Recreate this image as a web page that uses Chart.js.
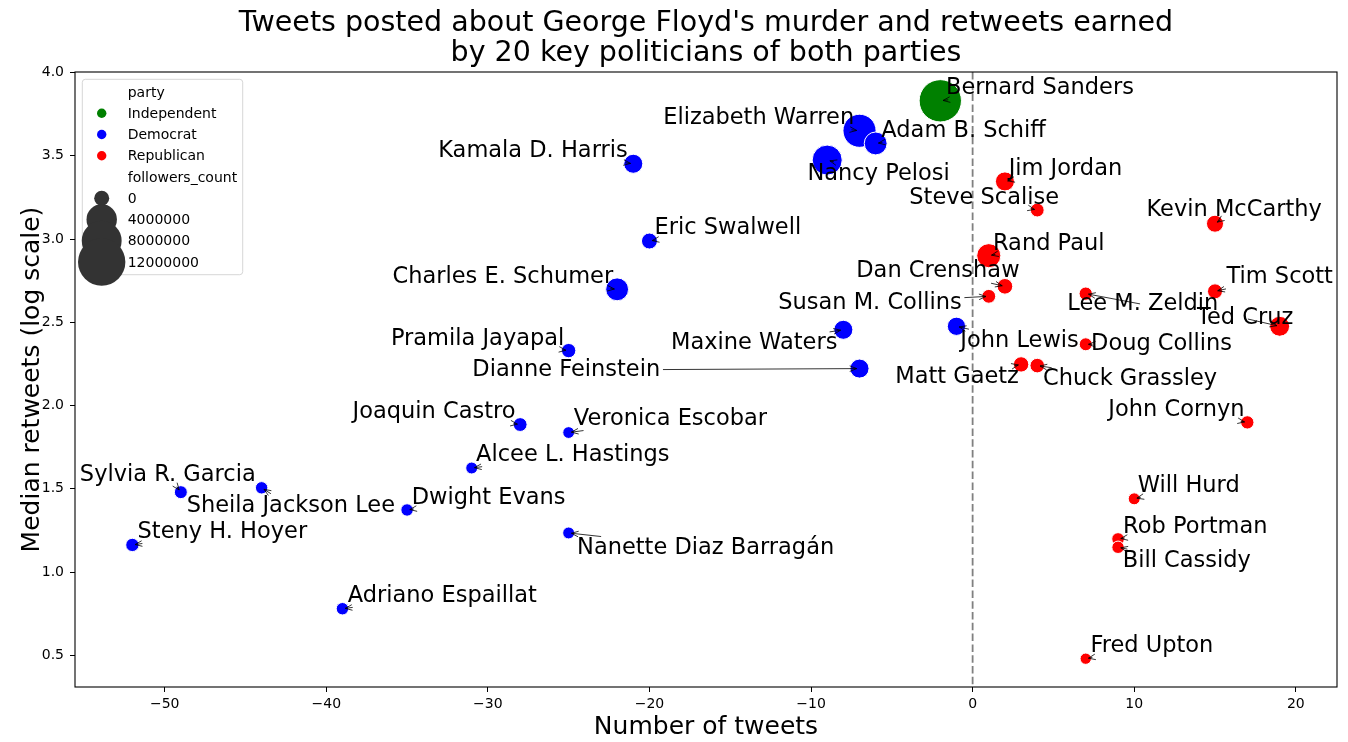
<!DOCTYPE html>
<html>
<head>
<meta charset="utf-8">
<title>Tweets about George Floyd's murder</title>
<script src="https://cdn.jsdelivr.net/npm/chart.js@4.4.0/dist/chart.umd.min.js"></script>
<style>
    html, body { margin: 0; padding: 0; background: #fff; }
    #wrap { width: 1348px; height: 742px; }
</style>
</head>
<body>
<div id="wrap"><canvas id="tweetsChart" width="1348" height="742"></canvas></div>
<script>
const names = [
    'Bernard Sanders',
    'Elizabeth Warren', 'Adam B. Schiff', 'Nancy Pelosi', 'Kamala D. Harris', 'Eric Swalwell',
    'Charles E. Schumer', 'Pramila Jayapal', 'Maxine Waters', 'Dianne Feinstein', 'John Lewis',
    'Joaquin Castro', 'Veronica Escobar', 'Alcee L. Hastings', 'Sylvia R. Garcia', 'Sheila Jackson Lee',
    'Dwight Evans', 'Steny H. Hoyer', 'Nanette Diaz Barragán', 'Adriano Espaillat',
    'Jim Jordan', 'Steve Scalise', 'Kevin McCarthy', 'Rand Paul', 'Dan Crenshaw', 'Susan M. Collins',
    'Lee M. Zeldin', 'Tim Scott', 'Ted Cruz', 'Doug Collins', 'Matt Gaetz', 'Chuck Grassley',
    'John Cornyn', 'Will Hurd', 'Rob Portman', 'Bill Cassidy', 'Fred Upton'
];
const parties = [
    'Independent',
    'Democrat', 'Democrat', 'Democrat', 'Democrat', 'Democrat', 'Democrat', 'Democrat', 'Democrat',
    'Democrat', 'Democrat', 'Democrat', 'Democrat', 'Democrat', 'Democrat', 'Democrat', 'Democrat',
    'Democrat', 'Democrat', 'Democrat',
    'Republican', 'Republican', 'Republican', 'Republican', 'Republican', 'Republican', 'Republican',
    'Republican', 'Republican', 'Republican', 'Republican', 'Republican', 'Republican', 'Republican',
    'Republican', 'Republican', 'Republican'
];
const tweets = [
    -2,
    -7, -6, -9, -21, -20, -22, -25, -8, -7, -1, -28, -25, -31, -49, -44, -35, -52, -25, -39,
    2, 4, 15, 1, 2, 1, 7, 15, 19, 7, 3, 4, 17, 10, 9, 9, 7
];
const retweets = [
    3.83,
    3.65, 3.574, 3.474, 3.452, 2.988, 2.698, 2.33, 2.455, 2.222, 2.476, 1.886, 1.838, 1.625, 1.48,
    1.506, 1.373, 1.163, 1.235, 0.78,
    3.346, 3.174, 3.092, 2.9, 2.716, 2.656, 2.672, 2.686, 2.476, 2.368, 2.247, 2.24, 1.899, 1.44,
    1.199, 1.149, 0.48
];
const followers = [
    11400000,
    6700000, 2800000, 5400000, 1700000, 950000, 2800000, 600000, 1700000, 1700000, 1500000,
    500000, 130000, 160000, 340000, 240000, 240000, 400000, 160000, 240000,
    1700000, 500000, 1200000, 3200000, 870000, 500000, 400000, 740000, 1950000, 340000, 820000,
    650000, 400000, 160000, 270000, 240000, 50000
];
// where each name label sits (left edge, baseline), in data units
const labelAt = [
    [-1.65, 3.870],
    [-19.15, 3.690], [-5.65, 3.610], [-10.22, 3.356], [-33.07, 3.492], [-19.69, 3.028],
    [-35.90, 2.736], [-36.0, 2.364], [-18.66, 2.337], [-30.96, 2.178], [-0.76, 2.352],
    [-38.37, 1.924], [-24.68, 1.884], [-30.73, 1.667], [-55.25, 1.547], [-48.64, 1.359],
    [-34.71, 1.409], [-51.68, 1.206], [-24.48, 1.109], [-38.67, 0.822],
    [2.23, 3.384], [-3.92, 3.210], [10.76, 3.136], [1.26, 2.936], [-7.20, 2.770], [-12.03, 2.582],
    [5.86, 2.572], [15.71, 2.736], [13.89, 2.488], [7.33, 2.332], [-4.79, 2.136], [4.36, 2.122],
    [8.40, 1.936], [10.22, 1.482], [9.31, 1.233], [9.29, 1.032], [7.29, 0.519]
];

const titleLines = ["Tweets posted about George Floyd's murder and retweets earned", 'by 20 key politicians of both parties'];
const partyOrder = ['Independent', 'Democrat', 'Republican'];
const partyColors = ['#008000', '#0000ff', '#ff0000'];
const sizeLegendValues = [0, 4000000, 8000000, 12000000];
const xTicks = [-50, -40, -30, -20, -10, 0, 10, 20];
const yTicks = [0.5, 1.0, 1.5, 2.0, 2.5, 3.0, 3.5, 4.0];

const FONT = '"DejaVu Sans", "Liberation Sans", sans-serif';
Chart.defaults.font.family = FONT;
Chart.defaults.color = '#000';

function bubbleRadius(count) {
    return Math.sqrt(36 + 38 * count / 1e6);
}

const datasets = partyOrder.map((p, k) => ({
    label: p,
    data: names.map((n, i) => ({ x: tweets[i], y: retweets[i], r: bubbleRadius(followers[i]) - 0.5, i }))
        .filter(d => parties[d.i] === p),
    backgroundColor: partyColors[k],
    borderColor: '#ffffff',
    borderWidth: 1
}));

const annotatePlugin = {
    id: 'annotate',
    beforeDatasetsDraw(chart) {
        const { ctx, chartArea: a, scales: { x } } = chart;
        const zx = x.getPixelForValue(0);
        ctx.save();
        ctx.strokeStyle = '#808080';
        ctx.lineWidth = 1.8;
        ctx.setLineDash([7.5, 3.3]);
        ctx.beginPath();
        ctx.moveTo(zx, a.top);
        ctx.lineTo(zx, a.bottom);
        ctx.stroke();
        ctx.restore();
    },
    afterDatasetsDraw(chart) {
        const { ctx, scales: { x, y } } = chart;
        const fs = 22.5, shrink = 2.78;
        ctx.save();
        ctx.font = fs + 'px ' + FONT;
        const boxes = names.map((n, i) => ({
            left: x.getPixelForValue(labelAt[i][0]),
            base: y.getPixelForValue(labelAt[i][1]),
            w: ctx.measureText(n).width
        }));

        // arrows from the label box to the point, like matplotlib annotate
        ctx.strokeStyle = '#000';
        ctx.lineWidth = 0.8;
        names.forEach((n, i) => {
            const b = boxes[i];
            const px = x.getPixelForValue(tweets[i]);
            const py = y.getPixelForValue(retweets[i]);
            const x0 = b.left, x1 = b.left + b.w;
            const y0 = b.base - 0.76 * fs, y1 = b.base + 0.236 * fs;
            const sx = (x0 + x1) / 2, sy = (y0 + y1) / 2;
            const dx = px - sx, dy = py - sy;
            const len = Math.hypot(dx, dy);
            if (len < 1) return;
            const ux = dx / len, uy = dy / len;
            const inside = px >= x0 && px <= x1 && py >= y0 && py <= y1;
            let t0 = 0;
            if (!inside) {
                let t = Infinity;
                if (dx > 0) t = Math.min(t, (x1 - sx) / dx);
                if (dx < 0) t = Math.min(t, (x0 - sx) / dx);
                if (dy > 0) t = Math.min(t, (y1 - sy) / dy);
                if (dy < 0) t = Math.min(t, (y0 - sy) / dy);
                t0 = t * len;
            }
            let start = t0 + shrink;
            const end = len - shrink;
            if (end - start < 4) start = end - 4;
            const ax = sx + ux * start, ay = sy + uy * start;
            const bx = sx + ux * end, by = sy + uy * end;
            const hl = 7, hw = 2.8;
            ctx.beginPath();
            ctx.moveTo(ax, ay);
            ctx.lineTo(bx, by);
            ctx.moveTo(bx - ux * hl - uy * hw, by - uy * hl + ux * hw);
            ctx.lineTo(bx, by);
            ctx.lineTo(bx - ux * hl + uy * hw, by - uy * hl - ux * hw);
            ctx.stroke();
        });

        ctx.fillStyle = '#000';
        ctx.textAlign = 'left';
        ctx.textBaseline = 'alphabetic';
        names.forEach((n, i) => ctx.fillText(n, boxes[i].left, boxes[i].base));
        ctx.restore();
    },
    afterDraw(chart) {
        const { ctx, chartArea: a } = chart;
        ctx.save();
        ctx.strokeStyle = '#000';
        ctx.lineWidth = 1.1;
        ctx.strokeRect(a.left, a.top, a.right - a.left, a.bottom - a.top);

        // title, centred over the axes
        ctx.fillStyle = '#000';
        ctx.font = '28.5px ' + FONT;
        ctx.textAlign = 'center';
        ctx.textBaseline = 'middle';
        const cx = (a.left + a.right) / 2;
        titleLines.forEach((t, k) => ctx.fillText(t, cx, 24 + k * 30));

        // legend box
        const L = a.left + 7.3, T = a.top + 7.3, W = 160.4, H = 195.4, rad = 3;
        ctx.beginPath();
        ctx.moveTo(L + rad, T);
        ctx.lineTo(L + W - rad, T);
        ctx.arcTo(L + W, T, L + W, T + rad, rad);
        ctx.lineTo(L + W, T + H - rad);
        ctx.arcTo(L + W, T + H, L + W - rad, T + H, rad);
        ctx.lineTo(L + rad, T + H);
        ctx.arcTo(L, T + H, L, T + H - rad, rad);
        ctx.lineTo(L, T + rad);
        ctx.arcTo(L, T, L + rad, T, rad);
        ctx.closePath();
        ctx.fillStyle = 'rgba(255,255,255,0.8)';
        ctx.fill();
        ctx.strokeStyle = 'rgba(204,204,204,0.8)';
        ctx.lineWidth = 1;
        ctx.stroke();

        const rows = ['party', ...partyOrder, 'followers_count', ...sizeLegendValues.map(String)];
        const mx = L + 19.4, tx = L + 45.4;
        rows.forEach((txt, k) => {
            const ry = T + 12.7 + k * 21.25;
            const pi = partyOrder.indexOf(txt);
            if (pi >= 0) {
                ctx.fillStyle = partyColors[pi];
                ctx.beginPath();
                ctx.arc(mx, ry, 4.7, 0, Math.PI * 2);
                ctx.fill();
            } else if (k > 4) {
                ctx.fillStyle = '#333333';
                ctx.beginPath();
                ctx.arc(mx, ry, bubbleRadius(sizeLegendValues[k - 5]) + 1.5, 0, Math.PI * 2);
                ctx.fill();
            }
        });
        ctx.font = '14px ' + FONT;
        ctx.fillStyle = '#000';
        ctx.textAlign = 'left';
        ctx.textBaseline = 'middle';
        rows.forEach((txt, k) => ctx.fillText(txt, tx, T + 13.7 + k * 21.25));
        ctx.restore();
    }
};

new Chart(document.getElementById('tweetsChart'), {
    type: 'bubble',
    data: { datasets },
    options: {
        responsive: false,
        animation: false,
        events: [],
        layout: { autoPadding: false, padding: { left: 0, right: 11, top: 72, bottom: 0 } },
        plugins: {
            legend: { display: false },
            tooltip: { enabled: false },
            title: { display: false }
        },
        scales: {
            x: {
                type: 'linear',
                min: -55.55,
                max: 22.55,
                afterBuildTicks: s => { s.ticks = xTicks.map(v => ({ value: v })); },
                afterFit: s => { s.height = 55; },
                grid: { display: true, drawOnChartArea: false, drawTicks: true, tickLength: 5, tickColor: '#000', tickWidth: 1 },
                border: { display: false },
                ticks: {
                    color: '#000',
                    font: { size: 14 },
                    padding: 4,
                    maxRotation: 0,
                    autoSkip: false,
                    callback: v => String(v).replace('-', '\u2212')
                },
                title: {
                    display: true,
                    text: 'Number of tweets',
                    color: '#000',
                    font: { size: 25 },
                    padding: { top: 0, bottom: 0 }
                }
            },
            y: {
                type: 'linear',
                min: 0.31,
                max: 4.003,
                afterBuildTicks: s => { s.ticks = yTicks.map(v => ({ value: v })); },
                afterFit: s => { s.width = 75; },
                grid: { display: true, drawOnChartArea: false, drawTicks: true, tickLength: 5, tickColor: '#000', tickWidth: 1 },
                border: { display: false },
                ticks: {
                    color: '#000',
                    font: { size: 14 },
                    padding: 6,
                    autoSkip: false,
                    callback: v => Number(v).toFixed(1)
                },
                title: {
                    display: true,
                    text: 'Median retweets (log scale)',
                    color: '#000',
                    font: { size: 25 },
                    padding: { top: 17, bottom: 0 }
                }
            }
        }
    },
    plugins: [annotatePlugin]
});
</script>
</body>
</html>
